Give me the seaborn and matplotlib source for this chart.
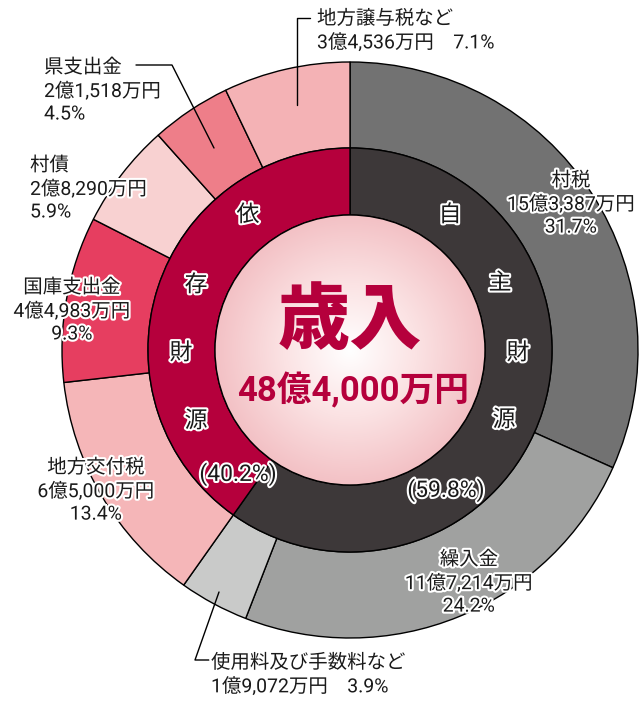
import numpy as np
import matplotlib.pyplot as plt
import matplotlib.patheffects as pe
from matplotlib.colors import LinearSegmentedColormap
from matplotlib.patches import Circle
import seaborn as sns

# outer ring (clockwise from top)
items = ["村税", "繰入金", "使用料及び手数料など", "地方交付税",
         "国庫支出金", "村債", "県支出金", "地方譲与税など"]
amounts = ["15億3,387万円", "11億7,214万円", "1億9,072万円", "6億5,000万円",
           "4億4,983万円", "2億8,290万円", "2億1,518万円", "3億4,536万円"]
shares = [31.7, 24.2, 3.9, 13.4, 9.3, 5.9, 4.5, 7.1]
outer_colors = ["#727272", "#a0a1a0", "#c9cac9", "#f5b6b8",
                "#e63e60", "#f8d1d1", "#ee7e89", "#f4b2b5"]

# inner ring
groups = ["自主財源", "依存財源"]
group_shares = [59.8, 40.2]
inner_colors = ["#3d3839", "#b5003c"]

total_label = "48億4,000万円"

sns.set_theme(style="white")
plt.rcParams["font.family"] = ["Roboto", "Noto Sans CJK JP", "DejaVu Sans"]

W, H = 639, 701
fig = plt.figure(figsize=(W / 100, H / 100), dpi=100)
ax = fig.add_axes([0, 0, 1, 1])

cx, cy = 350, H - 350
r_out, r_mid, r_in = 288, 202, 135
edge = dict(edgecolor="black", linewidth=1.0)

ax.pie(shares, colors=outer_colors, startangle=90, counterclock=False,
       radius=r_out, center=(cx, cy),
       wedgeprops=dict(width=r_out - r_mid, **edge))
ax.pie(group_shares, colors=inner_colors, startangle=90, counterclock=False,
       radius=r_mid, center=(cx, cy),
       wedgeprops=dict(width=r_mid - r_in, **edge))
ax.set_xlim(0, W)
ax.set_ylim(0, H)
ax.set_aspect("equal")
ax.axis("off")

# center disk with radial gradient
cmap = LinearSegmentedColormap.from_list("c", ["#ffffff", "#fbe2e3", "#f3c1c5"])
g = np.linspace(-1, 1, 300)
xx, yy = np.meshgrid(g, g)
rr = np.sqrt(xx ** 2 + yy ** 2)
im = ax.imshow(rr, cmap=cmap, vmin=0, vmax=1,
               extent=(cx - r_in, cx + r_in, cy - r_in, cy + r_in), zorder=3)
disk = Circle((cx, cy), r_in, facecolor="none", edgecolor="black", lw=1.0, zorder=4)
ax.add_patch(disk)
im.set_clip_path(disk)

halo = [pe.withStroke(linewidth=3, foreground="white")]


def put(x, y, s, size=14, ha="center", **kw):
    ax.text(x, H - y, s, fontsize=size, ha=ha, va="center",
            color="#1a1a1a", path_effects=halo, zorder=6, linespacing=1.32, **kw)


# center text
ax.text(cx, H - 322, "歳入", fontsize=52, fontweight="heavy", color="#b5003c",
        ha="center", va="center", zorder=6, family=["Noto Sans CJK JP"])
ax.text(cx + 3, H - 390, total_label, fontsize=25, fontweight="bold",
        color="#b5003c", ha="center", va="center", zorder=6)

# inner ring labels
for (x, y), ch in zip([(450, 215), (500, 283), (518, 353), (504, 420)], groups[0]):
    put(x, y, ch, size=16.5)
put(446, 490, f"({group_shares[0]}%)", size=16.5)
for (x, y), ch in zip([(248, 215), (196, 285), (181, 353), (196, 421)], groups[1]):
    put(x, y, ch, size=16.5)
put(238, 474, f"({group_shares[1]}%)", size=16.5)

# outer labels
put(571, 204, f"{items[0]}\n{amounts[0]}\n{shares[0]}%")
put(469, 583, f"{items[1]}\n{amounts[1]}\n{shares[1]}%")
put(211, 675, f"{items[2]}\n{amounts[2]}　{shares[2]}%", ha="left")
put(96, 491, f"{items[3]}\n{amounts[3]}\n{shares[3]}%")
put(72, 311, f"{items[4]}\n{amounts[4]}\n{shares[4]}%")
put(30, 189, f"{items[5]}\n{amounts[5]}\n{shares[5]}%", ha="left")
put(44, 91, f"{items[6]}\n{amounts[6]}\n{shares[6]}%", ha="left")
put(317, 31, f"{items[7]}\n{amounts[7]}　{shares[7]}%", ha="left")

# leader lines
lk = dict(color="black", lw=1.0, zorder=5)
ax.plot([297, 297, 310], [H - 105, H - 18, H - 18], **lk)
ax.plot([214, 172, 136], [H - 148, H - 65, H - 65], **lk)
ax.plot([219, 195, 209], [H - 592, H - 660, H - 660], **lk)

fig.savefig("out.png", dpi=100, facecolor="white")
